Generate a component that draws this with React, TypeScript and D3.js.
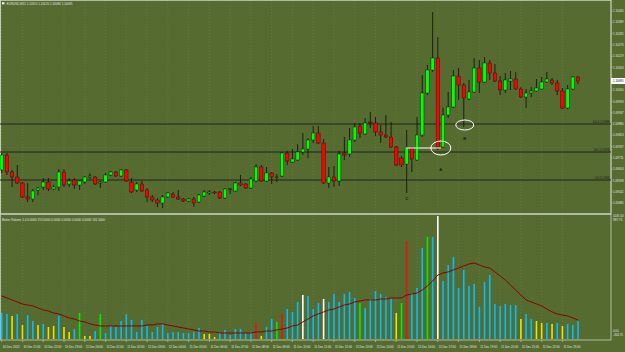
import React from 'react';
import * as d3 from 'd3';

const WIDTH = 625;
const HEIGHT = 352;

const symbolTitle = 'EURUSD,M15  1.10115 1.10120 1.10080 1.10095';
const indicatorTitle = 'Better Volume 1.4  0.0000 153.0000 0.0000 0.0000 0.0000 0.0000 161.5000';

// M15 bars, 10 Dec 20:00 .. 11 Dec 23:45 -> [open, high, low, close]
const candles = [
  [1.09650, 1.09735, 1.09635, 1.09725], [1.09725, 1.09735, 1.09625, 1.09640],
  [1.09640, 1.09650, 1.09565, 1.09615], [1.09615, 1.09675, 1.09580, 1.09585],
  [1.09585, 1.09590, 1.09510, 1.09515], [1.09515, 1.09585, 1.09490, 1.09505],
  [1.09505, 1.09555, 1.09490, 1.09545], [1.09550, 1.09565, 1.09525, 1.09560],
  [1.09565, 1.09610, 1.09550, 1.09590], [1.09590, 1.09610, 1.09545, 1.09555],
  [1.09555, 1.09575, 1.09550, 1.09565], [1.09565, 1.09655, 1.09545, 1.09640],
  [1.09640, 1.09655, 1.09565, 1.09575], [1.09580, 1.09610, 1.09565, 1.09595],
  [1.09600, 1.09610, 1.09555, 1.09575], [1.09575, 1.09600, 1.09550, 1.09595],
  [1.09590, 1.09620, 1.09580, 1.09615], [1.09615, 1.09635, 1.09605, 1.09620],
  [1.09615, 1.09620, 1.09575, 1.09580], [1.09585, 1.09595, 1.09560, 1.09590],
  [1.09590, 1.09635, 1.09585, 1.09625], [1.09625, 1.09645, 1.09620, 1.09640],
  [1.09640, 1.09645, 1.09615, 1.09620], [1.09620, 1.09655, 1.09615, 1.09650],
  [1.09650, 1.09655, 1.09590, 1.09595], [1.09590, 1.09610, 1.09535, 1.09540],
  [1.09550, 1.09590, 1.09540, 1.09580], [1.09580, 1.09595, 1.09540, 1.09545],
  [1.09550, 1.09560, 1.09490, 1.09515], [1.09515, 1.09525, 1.09490, 1.09500],
  [1.09500, 1.09510, 1.09465, 1.09485], [1.09485, 1.09525, 1.09460, 1.09515],
  [1.09515, 1.09540, 1.09510, 1.09535], [1.09530, 1.09540, 1.09510, 1.09515],
  [1.09515, 1.09550, 1.09500, 1.09505], [1.09505, 1.09510, 1.09490, 1.09495],
  [1.09495, 1.09510, 1.09490, 1.09505], [1.09505, 1.09515, 1.09465, 1.09485],
  [1.09490, 1.09530, 1.09485, 1.09525], [1.09520, 1.09550, 1.09515, 1.09540],
  [1.09535, 1.09550, 1.09525, 1.09540], [1.09540, 1.09545, 1.09530, 1.09535],
  [1.09540, 1.09545, 1.09505, 1.09510], [1.09510, 1.09560, 1.09505, 1.09555],
  [1.09555, 1.09560, 1.09530, 1.09555], [1.09545, 1.09590, 1.09540, 1.09585],
  [1.09585, 1.09625, 1.09570, 1.09575], [1.09580, 1.09585, 1.09555, 1.09560],
  [1.09560, 1.09615, 1.09555, 1.09605], [1.09595, 1.09680, 1.09590, 1.09665],
  [1.09665, 1.09675, 1.09590, 1.09595], [1.09595, 1.09665, 1.09590, 1.09635],
  [1.09635, 1.09640, 1.09580, 1.09615], [1.09615, 1.09630, 1.09590, 1.09615],
  [1.09620, 1.09740, 1.09615, 1.09735], [1.09735, 1.09745, 1.09675, 1.09695],
  [1.09690, 1.09755, 1.09685, 1.09705], [1.09700, 1.09780, 1.09695, 1.09740],
  [1.09740, 1.09835, 1.09725, 1.09755], [1.09755, 1.09810, 1.09710, 1.09800],
  [1.09800, 1.09870, 1.09785, 1.09835], [1.09835, 1.09870, 1.09780, 1.09785],
  [1.09785, 1.09805, 1.09580, 1.09585], [1.09585, 1.09665, 1.09560, 1.09615],
  [1.09615, 1.09670, 1.09565, 1.09595], [1.09595, 1.09745, 1.09570, 1.09730],
  [1.09735, 1.09815, 1.09700, 1.09725], [1.09730, 1.09860, 1.09715, 1.09800],
  [1.09800, 1.09885, 1.09790, 1.09865], [1.09870, 1.09885, 1.09810, 1.09835],
  [1.09830, 1.09910, 1.09825, 1.09885], [1.09890, 1.09940, 1.09860, 1.09885],
  [1.09885, 1.09915, 1.09820, 1.09840], [1.09840, 1.09875, 1.09785, 1.09825],
  [1.09825, 1.09925, 1.09810, 1.09815], [1.09815, 1.09890, 1.09760, 1.09765],
  [1.09765, 1.09770, 1.09670, 1.09675], [1.09710, 1.09720, 1.09665, 1.09675],
  [1.09680, 1.09850, 1.09535, 1.09760], [1.09760, 1.09765, 1.09640, 1.09705],
  [1.09700, 1.09915, 1.09695, 1.09825], [1.09825, 1.10125, 1.09815, 1.10035],
  [1.10035, 1.10175, 1.10025, 1.10150], [1.10150, 1.10440, 1.10140, 1.10210],
  [1.10210, 1.10315, 1.09750, 1.09760], [1.09765, 1.09960, 1.09760, 1.09925],
  [1.09925, 1.10040, 1.09910, 1.09965], [1.09965, 1.10150, 1.09960, 1.10120],
  [1.10120, 1.10160, 1.10000, 1.10075], [1.10075, 1.10085, 1.09865, 1.10010],
  [1.10005, 1.10100, 1.10000, 1.10040], [1.10040, 1.10210, 1.10035, 1.10160],
  [1.10160, 1.10200, 1.10035, 1.10090], [1.10090, 1.10215, 1.10085, 1.10185],
  [1.10185, 1.10200, 1.10100, 1.10135], [1.10135, 1.10180, 1.10090, 1.10095],
  [1.10095, 1.10120, 1.10025, 1.10050], [1.10050, 1.10135, 1.10035, 1.10100],
  [1.10095, 1.10145, 1.10050, 1.10105], [1.10105, 1.10140, 1.10050, 1.10055],
  [1.10055, 1.10065, 1.10010, 1.10015], [1.10015, 1.10055, 1.09960, 1.10035],
  [1.10035, 1.10065, 1.10015, 1.10045], [1.10045, 1.10105, 1.10040, 1.10060],
  [1.10055, 1.10115, 1.10050, 1.10090], [1.10090, 1.10140, 1.10085, 1.10105],
  [1.10100, 1.10110, 1.10075, 1.10085], [1.10085, 1.10100, 1.10025, 1.10045],
  [1.10045, 1.10060, 1.09955, 1.09960], [1.09960, 1.10075, 1.09955, 1.10055],
  [1.10055, 1.10120, 1.10050, 1.10115], [1.10115, 1.10120, 1.10080, 1.10095],
];

const volumes = [
  221, 213, 196, 213, 119, 204, 153, 119, 128, 102, 111, 196, 102, 60, 85, 221,
  26, 26, 68, 213, 51, 111, 102, 153, 213, 162, 60, 162, 111, 60, 102, 128,
  51, 60, 60, 51, 51, 60, 94, 43, 43, 17, 51, 77, 34, 85, 85, 51,
  60, 136, 26, 102, 170, 145, 213, 255, 230, 315, 374, 366, 255, 306, 340, 315,
  383, 315, 383, 400, 349, 306, 264, 340, 408, 383, 357, 340, 221, 306, 833, 391,
  434, 774, 867, 867, 1045, 493, 629, 697, 434, 587, 451, 468, 272, 485, 544, 298,
  281, 298, 289, 289, 170, 213, 170, 153, 136, 136, 128, 136, 111, 128, 119, 153,
];

// Better Volume bar class: n = normal, y = low volume, g = churn, r = climax up, w = climax down
const volumeKinds = [
  'n', 'n', 'y', 'n', 'y', 'n', 'n', 'y', 'n', 'y', 'y', 'n', 'y', 'y', 'n', 'g',
  'y', 'y', 'n', 'g', 'n', 'n', 'n', 'n', 'n', 'n', 'n', 'n', 'n', 'n', 'n', 'n',
  'n', 'n', 'n', 'n', 'n', 'n', 'n', 'y', 'y', 'y', 'n', 'n', 'n', 'n', 'n', 'n',
  'n', 'r', 'y', 'n', 'n', 'g', 'r', 'n', 'n', 'n', 'w', 'n', 'n', 'n', 'w', 'n',
  'n', 'n', 'n', 'n', 'n', 'g', 'n', 'n', 'n', 'n', 'n', 'n', 'y', 'g', 'r', 'n',
  'n', 'n', 'g', 'n', 'w', 'n', 'n', 'n', 'n', 'n', 'n', 'n', 'n', 'n', 'n', 'n',
  'n', 'n', 'n', 'n', 'y', 'n', 'n', 'y', 'y', 'n', 'y', 'n', 'y', 'n', 'n', 'n',
];

const volumeAverage = [
  366, 349, 332, 315, 298, 289, 281, 264, 247, 238, 221, 213, 196, 179, 170, 153,
  145, 128, 119, 111, 111, 111, 111, 111, 111, 111, 111, 111, 119, 119, 128, 128,
  119, 111, 102, 94, 85, 77, 68, 68, 60, 60, 51, 51, 51, 51, 51, 51,
  51, 60, 60, 68, 68, 77, 85, 94, 111, 119, 145, 170, 196, 213, 230, 247,
  255, 272, 289, 298, 315, 323, 332, 332, 332, 340, 340, 349, 349, 349, 374, 383,
  391, 417, 451, 493, 544, 561, 570, 587, 604, 621, 638, 646, 629, 612, 604, 570,
  536, 502, 459, 417, 374, 332, 315, 298, 281, 255, 230, 213, 204, 196, 179, 162,
];

const timeLabels = [
  '10 Dec 2015', '10 Dec 21:00', '10 Dec 22:00', '10 Dec 23:00',
  '11 Dec 00:00', '11 Dec 01:00', '11 Dec 02:00', '11 Dec 03:00',
  '11 Dec 04:00', '11 Dec 05:00', '11 Dec 06:00', '11 Dec 07:00',
  '11 Dec 08:00', '11 Dec 09:00', '11 Dec 10:00', '11 Dec 11:00',
  '11 Dec 12:00', '11 Dec 13:00', '11 Dec 14:00', '11 Dec 15:00',
  '11 Dec 16:00', '11 Dec 17:00', '11 Dec 18:00', '11 Dec 19:00',
  '11 Dec 20:00', '11 Dec 21:00', '11 Dec 22:00', '11 Dec 23:00',
];

const priceTicks = [
  1.10445, 1.10389, 1.10332, 1.10276, 1.10219, 1.10163, 1.10106, 1.10050, 1.09993,
  1.09937, 1.09880, 1.09824, 1.09767, 1.09711, 1.09654, 1.09598, 1.09541, 1.09485,
];

const fiboLevels = [1.09880, 1.09740, 1.09600];
const fiboNames = ['100.0', '50.0', '0.0'];

const volumeTopTicks = ['1045.50', '987.75'];
const volumeBottomTicks = ['0.00', '-264.75'];

const COLORS = {
  bg: '#556b2f',
  grid: '#6f844a',
  frame: '#c9cfbd',
  up: '#00ff00',
  down: '#ff0000',
  wick: '#0d0d0d',
  text: '#e4e4e4',
  kinds: { n: '#00bfff', y: '#e6e600', g: '#00ee00', r: '#ee1111', w: '#ffffff' } as Record<string, string>,
  average: '#8b0000',
};

const FONT = '"Liberation Sans", Arial, sans-serif';

export default function App() {
  const plotRight = 611;
  const mainBottom = 213;
  const indTop = 215;
  const indBottom = 339;

  const x = d3.scaleLinear().domain([0, candles.length - 1]).range([1.7, 578]);
  const y = d3.scaleLinear().domain([1.0945, 1.1046]).range([210, 8]);
  const v = d3.scaleLinear().domain([0, 1045.5]).range([indBottom, 216]);

  const avgLine = d3.line<number>().x((_, i) => x(i)).y(d => v(d));
  const last = candles[candles.length - 1];
  const lastY = y(last[3]);
  const bodyW = 3.4;
  // the current-price flag hides the scale label under it
  const shownTicks = priceTicks.filter(p => Math.abs(y(p) - lastY) > 5);

  return (
    <svg width={WIDTH} height={HEIGHT} style={{ position: 'absolute', left: 0, top: 0, display: 'block' }}
      fontFamily={FONT}>
      <rect width={WIDTH} height={HEIGHT} fill={COLORS.bg} />

      {/* vertical grid at the hour marks */}
      <g stroke={COLORS.grid} strokeWidth={0.6} strokeDasharray="1,2">
        {timeLabels.map((_, i) => (
          <line key={'vg' + i} x1={x(i * 4)} x2={x(i * 4)} y1={0} y2={indBottom} />
        ))}
      </g>

      {/* frames */}
      <g stroke={COLORS.frame} strokeWidth={0.8} fill="none">
        <rect x={0.5} y={0.5} width={plotRight - 0.5} height={mainBottom} />
        <line x1={0} x2={plotRight} y1={indTop - 0.5} y2={indTop - 0.5} />
        <line x1={0} x2={plotRight} y1={indBottom + 1} y2={indBottom + 1} />
        <line x1={plotRight} x2={plotRight} y1={0} y2={indBottom + 1} />
        <line x1={0.5} x2={0.5} y1={0} y2={indBottom + 1} />
      </g>

      <rect x={2} y={2.3} width={2.4} height={2} fill="#ffffff" />
      <text x={6.5} y={5.2} fontSize={3.8} fill={COLORS.text} textLength={66} lengthAdjust="spacingAndGlyphs">
        {symbolTitle}
      </text>

      {/* fibo levels */}
      {fiboLevels.map((p, i) => {
        const label = `${fiboNames[i]} (${p.toFixed(4)})`;
        return (
          <g key={'fib' + i}>
            <line x1={0} x2={plotRight} y1={y(p)} y2={y(p)} stroke="#1c1c1c" strokeWidth={0.9} />
            <text x={plotRight - 1} y={y(p) - 0.8} fontSize={3.2} textAnchor="end" fill="#1c1c1c"
              textLength={label.length * 1.25} lengthAdjust="spacingAndGlyphs">
              {label}
            </text>
          </g>
        );
      })}

      {/* candles */}
      {candles.map(([o, h, l, c], i) => {
        const up = c >= o;
        const top = y(Math.max(o, c));
        const bh = Math.max(0.8, Math.abs(y(o) - y(c)));
        return (
          <g key={'c' + i}>
            <line x1={x(i)} x2={x(i)} y1={y(h)} y2={y(l)} stroke={COLORS.wick} strokeWidth={0.8} />
            <rect x={x(i) - bodyW / 2} y={top} width={bodyW} height={bh}
              fill={up ? COLORS.up : COLORS.down} stroke={COLORS.wick} strokeWidth={0.4} />
          </g>
        );
      })}

      {/* annotations */}
      <line x1={x(78) - 1} x2={x(84) + 3} y1={y(1.09760)} y2={y(1.09760)} stroke="#ffffff" strokeWidth={1.2} />
      <ellipse cx={x(84) + 3} cy={y(1.09760)} rx={10} ry={7} fill="none" stroke="#ffffff" strokeWidth={1} />
      <ellipse cx={x(89) + 1} cy={y(1.09875)} rx={9} ry={5} fill="none" stroke="#ffffff" strokeWidth={1} />
      <g fontSize={4.2} fill="#1c1c1c" fontWeight="bold" textAnchor="middle">
        <text x={x(84) + 3} y={171}>A</text>
        <text x={x(89) + 1} y={140}>B</text>
        <text x={x(78)} y={200}>C</text>
      </g>

      {/* price axis */}
      <g fontSize={3.4} fill={COLORS.text}>
        {shownTicks.map((p, i) => (
          <g key={'pt' + i}>
            <line x1={plotRight} x2={plotRight + 1.5} y1={y(p)} y2={y(p)} stroke={COLORS.frame} strokeWidth={0.6} />
            <text x={plotRight + 2} y={y(p) + 1.2} textLength={10.5} lengthAdjust="spacingAndGlyphs">{p.toFixed(5)}</text>
          </g>
        ))}
      </g>
      <rect x={plotRight} y={lastY - 3} width={WIDTH - plotRight} height={6} fill="#ffffff" />
      <text x={plotRight + 2} y={lastY + 1.2} fontSize={3.4} fill="#000000" textLength={10.5}
        lengthAdjust="spacingAndGlyphs">{last[3].toFixed(5)}</text>

      {/* volume window */}
      <text x={2} y={220.5} fontSize={3.4} fill={COLORS.text} textLength={103} lengthAdjust="spacingAndGlyphs">
        {indicatorTitle}
      </text>
      {volumes.map((d, i) => (
        <rect key={'v' + i} x={x(i) - 0.8} y={v(d)} width={1.6} height={indBottom - v(d)}
          fill={COLORS.kinds[volumeKinds[i]]} />
      ))}
      <path d={avgLine(volumeAverage) || ''} fill="none" stroke={COLORS.average} strokeWidth={1} />
      <g fontSize={3.2} fill={COLORS.text}>
        <text x={plotRight + 2} y={217} textLength={10.5} lengthAdjust="spacingAndGlyphs">{volumeTopTicks[0]}</text>
        <text x={plotRight + 2} y={221} textLength={9.5} lengthAdjust="spacingAndGlyphs">{volumeTopTicks[1]}</text>
        <text x={plotRight + 2} y={331.5} textLength={5.5} lengthAdjust="spacingAndGlyphs">{volumeBottomTicks[0]}</text>
        <text x={plotRight + 2} y={335.5} textLength={10} lengthAdjust="spacingAndGlyphs">{volumeBottomTicks[1]}</text>
      </g>

      {/* time axis */}
      <g fontSize={3.4} fill={COLORS.text}>
        {timeLabels.map((t, i) => (
          <g key={'t' + i}>
            <line x1={x(i * 4)} x2={x(i * 4)} y1={indBottom + 1} y2={indBottom + 3} stroke={COLORS.frame} strokeWidth={0.6} />
            <text x={x(i * 4) + 1} y={347.5} textLength={17} lengthAdjust="spacingAndGlyphs">{t}</text>
          </g>
        ))}
      </g>
    </svg>
  );
}
